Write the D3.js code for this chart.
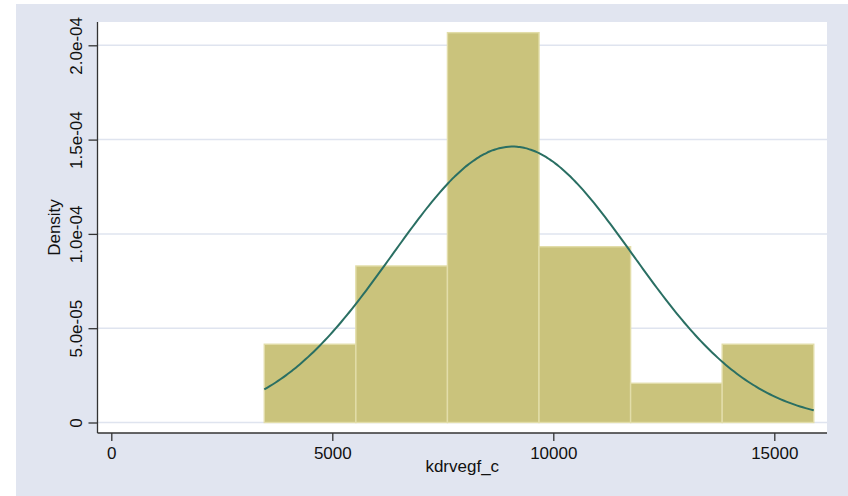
<!DOCTYPE html>
<html>
<head>
<meta charset="utf-8">
<script src="https://cdn.jsdelivr.net/npm/d3@7"></script>
<style>
  html, body { margin: 0; padding: 0; background: #ffffff; }
  svg { display: block; }
  text { font-family: "Liberation Sans", Arial, sans-serif; fill: #111; }
</style>
</head>
<body>
<svg id="chart" width="848" height="496"></svg>
<script>
// Histogram of kdrvegf_c (density scale) with a normal density overlay
const binEdges = [3461, 5533, 7605, 9677, 11749, 13821, 15893];
const binDensity = [4.15e-5, 8.30e-5, 2.067e-4, 9.32e-5, 2.08e-5, 4.15e-5];

// Normal overlay parameters
const normalMean = 9077;
const normalSD = 2727;

const xTickValues = [0, 5000, 10000, 15000];
const xTickLabels = ["0", "5000", "10000", "15000"];
const yTickValues = [0, 5e-5, 1e-4, 1.5e-4, 2e-4];
const yTickLabels = ["0", "5.0e-05", "1.0e-04", "1.5e-04", "2.0e-04"];

const xTitle = "kdrvegf_c";
const yTitle = "Density";

const svg = d3.select("#chart");

// graph region and plot region
svg.append("rect").attr("x", 16).attr("y", 4).attr("width", 832).attr("height", 492)
  .attr("fill", "#e1e5f0");
const plot = { left: 97.5, right: 827, top: 22, bottom: 433 };
svg.append("rect").attr("x", plot.left).attr("y", plot.top)
  .attr("width", plot.right - plot.left).attr("height", plot.bottom - plot.top)
  .attr("fill", "#ffffff");

const x = d3.scaleLinear().domain([0, 15000]).range([111.3, 774.3]);
const y = d3.scaleLinear().domain([0, 2e-4]).range([422.5, 45.3]);

// horizontal grid lines
svg.append("g").selectAll("line").data(yTickValues).join("line")
  .attr("x1", plot.left).attr("x2", plot.right)
  .attr("y1", d => y(d)).attr("y2", d => y(d))
  .attr("stroke", "#dfe4ef").attr("stroke-width", 1.5);

// bars
const bins = binDensity.map((d, i) => ({ x0: binEdges[i], x1: binEdges[i + 1], v: d }));
svg.append("g").selectAll("rect").data(bins).join("rect")
  .attr("x", d => x(d.x0)).attr("width", d => x(d.x1) - x(d.x0))
  .attr("y", d => y(d.v)).attr("height", d => y(0) - y(d.v))
  .attr("fill", "#cac37c").attr("stroke", "#e2dda9").attr("stroke-width", 1.4);

// normal density curve over the data range
const lo = binEdges[0], hi = binEdges[binEdges.length - 1];
const curvePts = d3.range(0, 201).map(i => {
  const v = lo + (hi - lo) * i / 200;
  const z = (v - normalMean) / normalSD;
  return [v, Math.exp(-0.5 * z * z) / (normalSD * Math.sqrt(2 * Math.PI))];
});
svg.append("path").datum(curvePts)
  .attr("d", d3.line().x(d => x(d[0])).y(d => y(d[1])).curve(d3.curveMonotoneX))
  .attr("fill", "none").attr("stroke", "#2a6f63").attr("stroke-width", 2);

// y axis
const yAxis = svg.append("g").attr("transform", `translate(${plot.left},0)`)
  .call(d3.axisLeft(y).tickValues(yTickValues).tickSize(9).tickPadding(0)
    .tickFormat((d, i) => yTickLabels[i]));
yAxis.select(".domain").attr("d", `M0,${plot.top}V${plot.bottom}`)
  .attr("stroke", "#333").attr("stroke-width", 1.3);
yAxis.selectAll(".tick line").attr("stroke", "#333").attr("stroke-width", 1.3);
yAxis.selectAll(".tick text")
  .attr("x", null).attr("dy", null)
  .attr("transform", "translate(-16,0) rotate(-90)")
  .attr("text-anchor", "middle")
  .style("font-size", "17px").style("font-family", "'Liberation Sans', Arial, sans-serif")
  .attr("fill", "#111");

// x axis
const xAxis = svg.append("g").attr("transform", `translate(0,${plot.bottom})`)
  .call(d3.axisBottom(x).tickValues(xTickValues).tickSize(8).tickPadding(0)
    .tickFormat((d, i) => xTickLabels[i]));
xAxis.select(".domain").attr("d", `M${plot.left},0H${plot.right}`)
  .attr("stroke", "#333").attr("stroke-width", 1.3);
xAxis.selectAll(".tick line").attr("stroke", "#333").attr("stroke-width", 1.3);
xAxis.selectAll(".tick text")
  .attr("y", 26).attr("dy", null)
  .style("font-size", "17px").style("font-family", "'Liberation Sans', Arial, sans-serif")
  .attr("fill", "#111");

// axis titles
svg.append("text").attr("x", (plot.left + plot.right) / 2).attr("y", 472)
  .attr("text-anchor", "middle").style("font-size", "17px").text(xTitle);
svg.append("text")
  .attr("transform", `translate(60,${(plot.top + plot.bottom) / 2}) rotate(-90)`)
  .attr("text-anchor", "middle").style("font-size", "17px").text(yTitle);
</script>
</body>
</html>
